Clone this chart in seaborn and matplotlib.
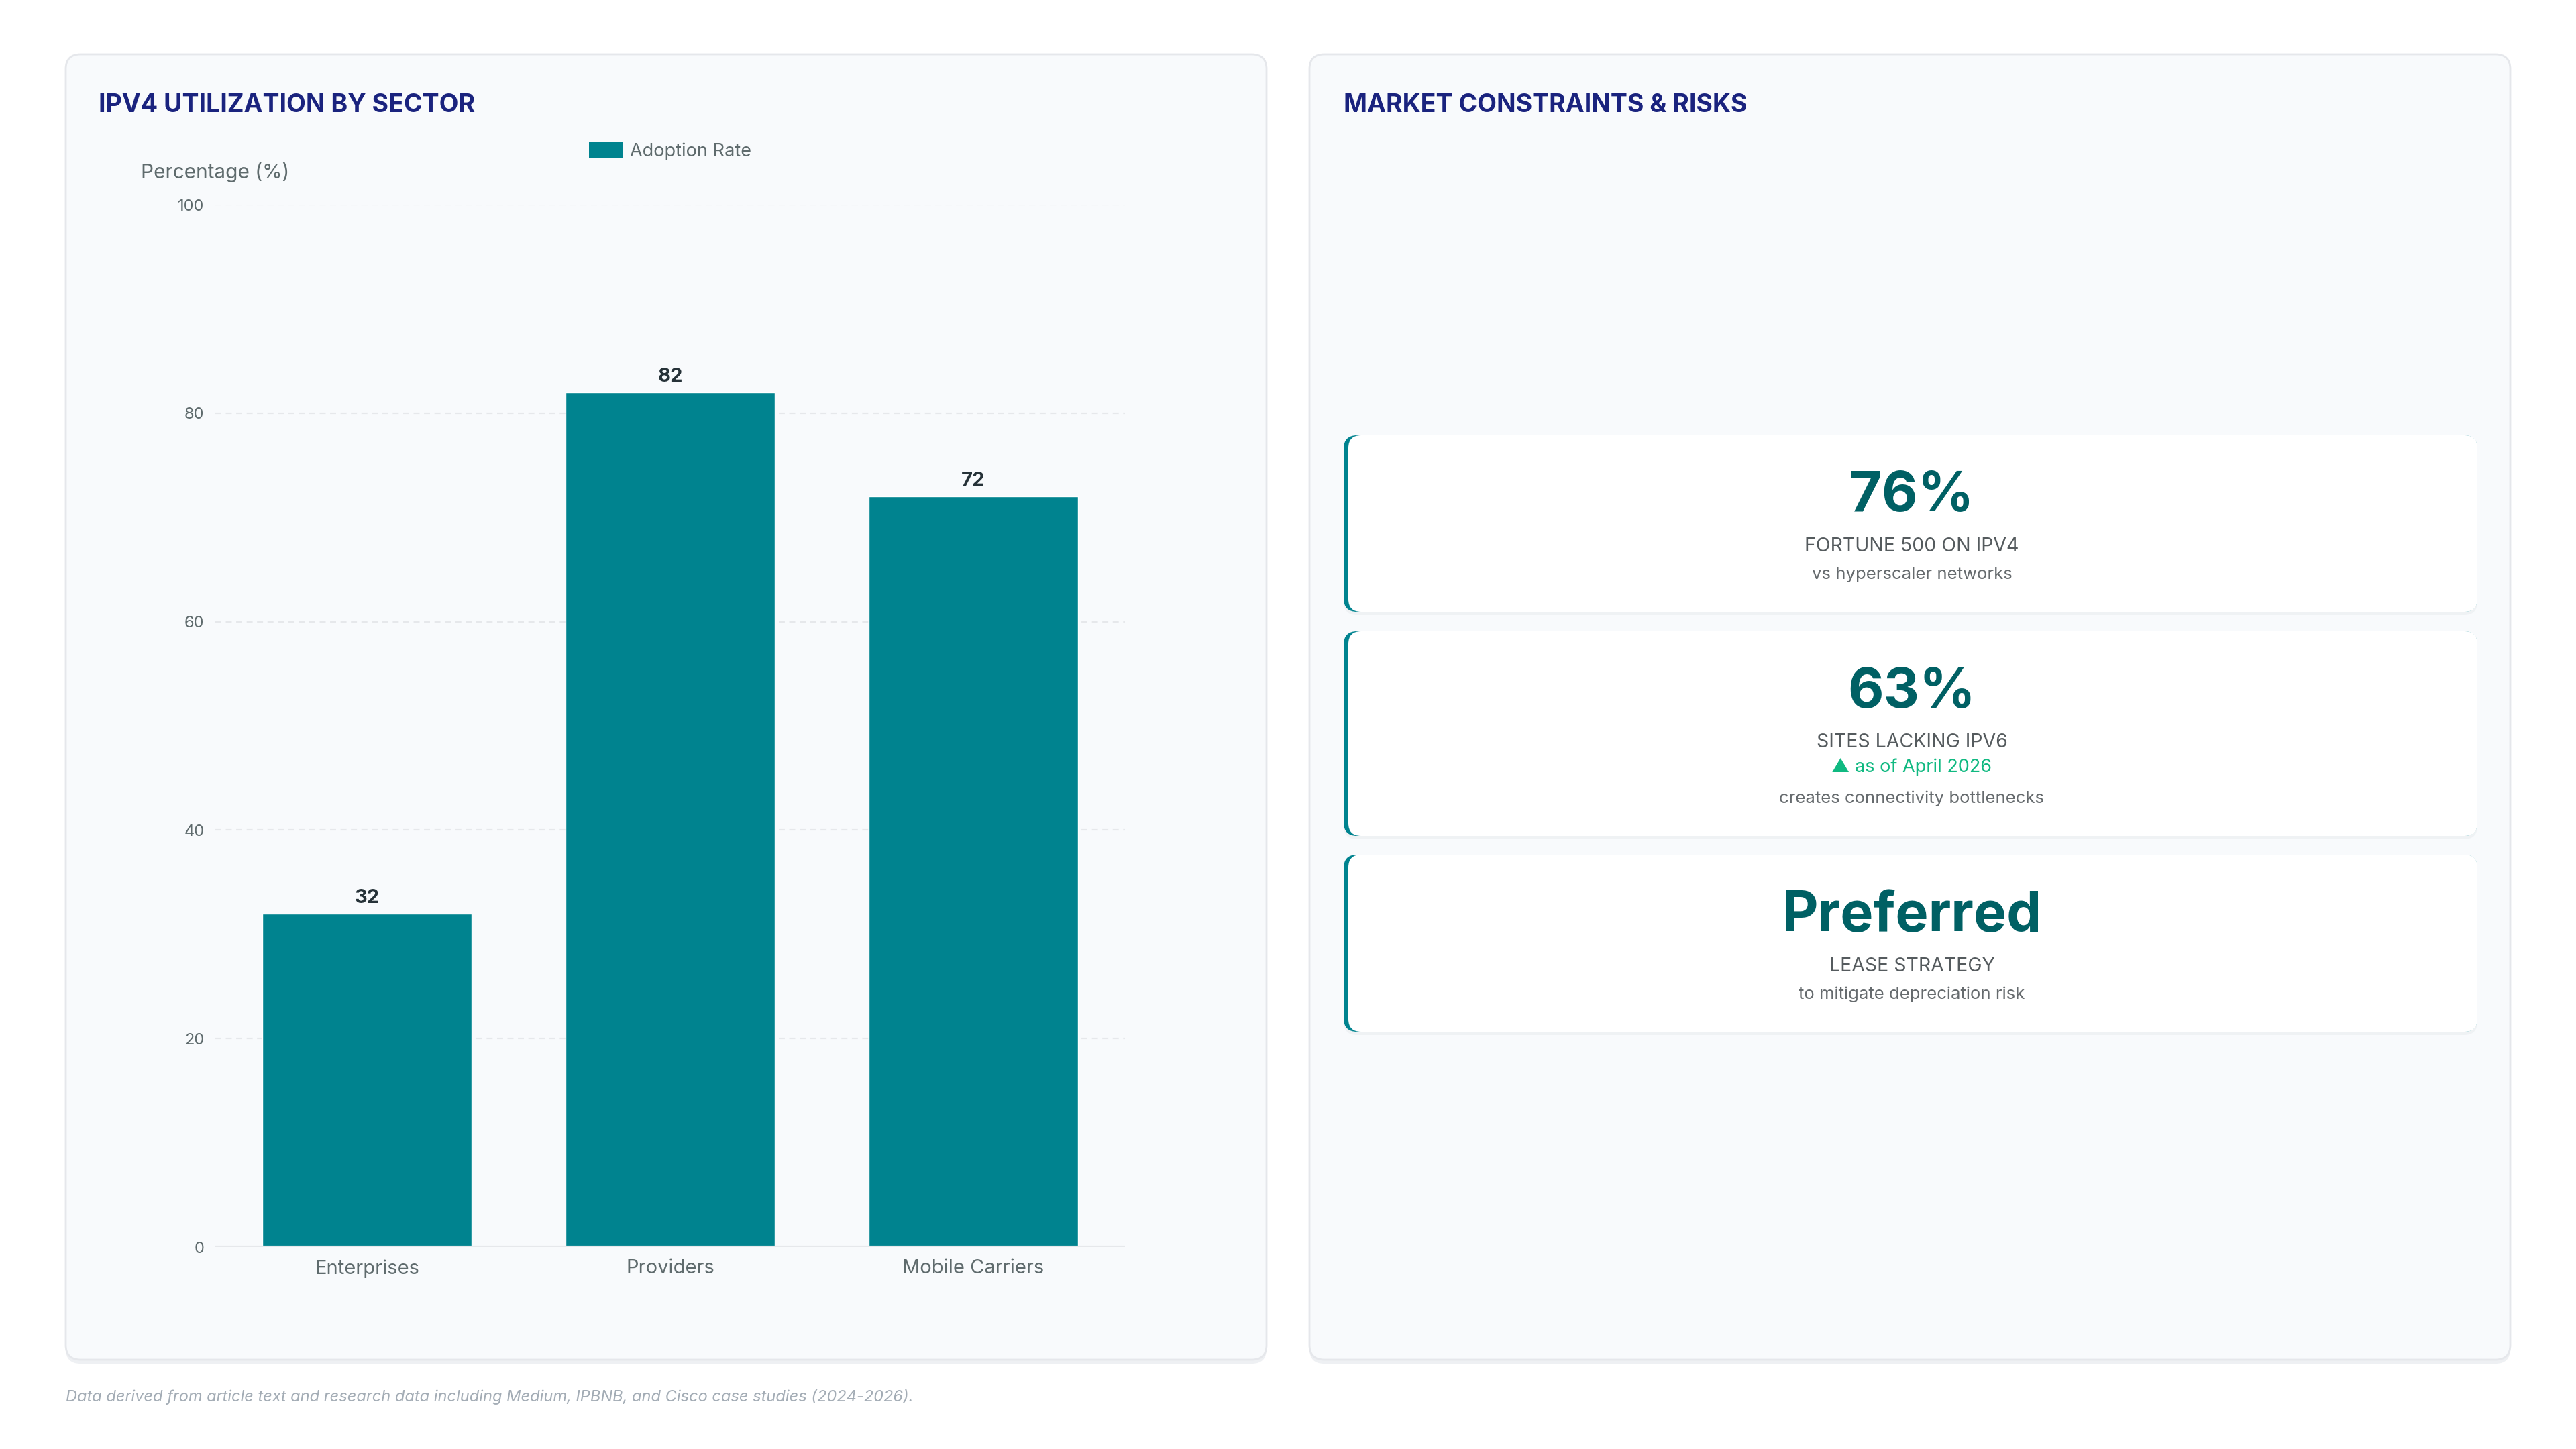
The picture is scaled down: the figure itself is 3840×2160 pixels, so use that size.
import pandas as pd
import matplotlib
matplotlib.use("Agg")
import matplotlib.pyplot as plt
from matplotlib.patches import FancyBboxPatch, Patch
import seaborn as sns

# chart data
sectors = ["Enterprises", "Providers", "Mobile Carriers"]
adoption = [32, 82, 72]
series_name = "Adoption Rate"
y_ticks = [0, 20, 40, 60, 80, 100]

# stat cards (big value, label, note, sub text)
card_values = ["76%", "63%", "Preferred"]
card_labels = ["FORTUNE 500 ON IPV4", "SITES LACKING IPV6", "LEASE STRATEGY"]
card_notes = ["", "\u25B2 as of April 2026", ""]
card_subs = ["vs hyperscaler networks", "creates connectivity bottlenecks", "to mitigate depreciation risk"]

footer = "Data derived from article text and research data including Medium, IPBNB, and Cisco case studies (2024-2026)."

TEAL = "#00838F"
DARK_TEAL = "#006064"
NAVY = "#1A237E"
GRAY = "#5F6B6D"
PANEL = "#F8FAFC"
BORDER = "#E5E7EB"

sns.set_theme(style="white")
plt.rcParams["font.family"] = ["Inter", "DejaVu Sans"]

W, H = 3840, 2160
fig = plt.figure(figsize=(W / 100, H / 100), dpi=100, facecolor="white")

# background layer in pixel coordinates
bg = fig.add_axes([0, 0, 1, 1])
bg.set_xlim(0, W)
bg.set_ylim(H, 0)
bg.axis("off")


def rbox(x, y, w, h, r, fc, ec="none", lw=0, z=1, alpha=1.0):
    p = FancyBboxPatch((x + r, y + r), w - 2 * r, h - 2 * r,
                       boxstyle=f"round,pad={r}", fc=fc, ec=ec, lw=lw,
                       zorder=z, alpha=alpha)
    bg.add_patch(p)


# panels
for px in [98, 1952]:
    rbox(px, 84, 1790, 1949, 22, "#EEF0F3", z=1)
    rbox(px, 81, 1790, 1946, 22, PANEL, ec=BORDER, lw=2, z=2)

bg.text(147, 157, "IPV4 UTILIZATION BY SECTOR", fontsize=27, fontweight="bold",
        color=NAVY, va="center", ha="left", zorder=5)
bg.text(2003, 157, "MARKET CONSTRAINTS & RISKS", fontsize=27, fontweight="bold",
        color=NAVY, va="center", ha="left", zorder=5)

# cards
card_boxes = [(649, 912), (941, 1246), (1274, 1538)]
cx = 2850
for i, (top, bot) in enumerate(card_boxes):
    rbox(2003, top + 5, 1690, bot - top, 20, "#EDF0F3", z=3, alpha=0.8)
    rbox(2003, top, 1690, bot - top, 20, TEAL, z=4)
    rbox(2010, top, 1683, bot - top, 19, "white", z=5)

card_text_y = [
    (740, 815, None, 856),
    (1033, 1107, 1144, 1190),
    (1366, 1440, None, 1482),
]
for i, (yv, yl, yn, ys) in enumerate(card_text_y):
    bg.text(cx, yv, card_values[i], fontsize=59.5, fontweight="bold", color=DARK_TEAL,
            ha="center", va="center", zorder=6)
    bg.text(cx, yl, card_labels[i], fontsize=20.5, color="#555B5E",
            ha="center", va="center", zorder=6)
    if card_notes[i]:
        bg.text(cx, yn, card_notes[i], fontsize=19.5, color="#10B981",
                ha="center", va="center", zorder=6)
    bg.text(cx, ys, card_subs[i], fontsize=18.5, color="#666B6E",
            ha="center", va="center", zorder=6)

bg.text(98, 2082, footer, fontsize=17, style="italic", color="#A3ACB5",
        ha="left", va="center")

# bar chart
df = pd.DataFrame({"Sector": sectors, series_name: adoption})
ax = fig.add_axes([321 / W, 1 - 1859 / H, (1677 - 321) / W, (1859 - 305) / H])
ax.set_facecolor("none")
sns.barplot(data=df, x="Sector", y=series_name, color=TEAL, width=0.69,
            saturation=1, ax=ax, zorder=3)
ax.set_xlim(-0.5, len(sectors) - 0.5)
ax.set_ylim(0, 100)
ax.set_yticks(y_ticks)
for t in y_ticks[1:]:
    ax.axhline(t, color="#E6E8EB", lw=1.6, ls=(0, (4, 3)), zorder=1)
ax.axhline(0, color="#E6E8EB", lw=3, zorder=4)
for s in ax.spines.values():
    s.set_visible(False)
ax.tick_params(axis="y", length=0, pad=12, labelsize=17, labelcolor=GRAY)
ax.tick_params(axis="x", length=0, pad=13, labelsize=21, labelcolor=GRAY)
ax.set_xlabel("")
ax.set_ylabel("")

for cont in ax.containers:
    ax.bar_label(cont, labels=[str(v) for v in adoption], padding=7,
                 fontsize=21, fontweight="bold", color="#263238")

ax.legend(handles=[Patch(facecolor=TEAL, edgecolor="none", label=series_name)],
          loc="center", bbox_to_anchor=(0.5, 1.0515), frameon=False,
          fontsize=19.5, handlelength=1.85, handleheight=1.06, handletextpad=0.4,
          labelcolor=GRAY, borderaxespad=0)

fig.text(210 / W, 1 - 257 / H, "Percentage (%)", fontsize=21.5, color=GRAY,
         ha="left", va="center")

fig.savefig("out.png", dpi=100, facecolor="white")
